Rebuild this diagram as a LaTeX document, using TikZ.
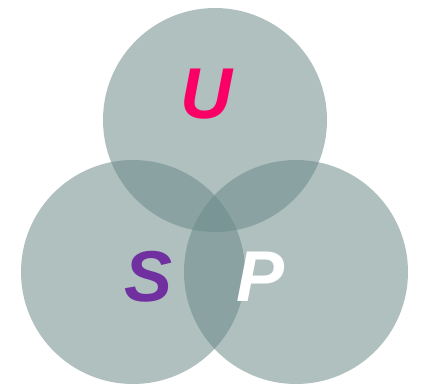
\documentclass[tikz,border=0pt]{standalone}
\usepackage{fontspec}
\setsansfont{Liberation Sans}
\usepackage{tikz}
\usetikzlibrary{positioning}

\definecolor{setfill}{RGB}{107,138,137}
\definecolor{upink}{RGB}{250,0,102}
\definecolor{spurple}{RGB}{112,48,160}

\begin{document}
\begin{tikzpicture}[
      x=1pt, y=-1pt,
      setcircle/.style={circle, draw=none, fill=setfill, fill opacity=0.54, minimum size=224pt, inner sep=0pt},
      setlabel/.style={font=\fontsize{72}{72}\selectfont\sffamily\bfseries\itshape, inner sep=0pt}
  ]
      \useasboundingbox (0,0) rectangle (428,388);

      % Circles
      \node[setcircle] (CU) at (215,120) {};
      \node[setcircle] (CS) at (133,272) {};
      \node[setcircle] (CP) at (296,272) {};

      % Labels
      \node[setlabel, text=upink] (U) at (206,94) {U};
      \node[setlabel, text=spurple] (S) at (149,277) {S};
      \node[setlabel, text=white] (P) at (261,277) {P};
  \end{tikzpicture}
\end{document}
